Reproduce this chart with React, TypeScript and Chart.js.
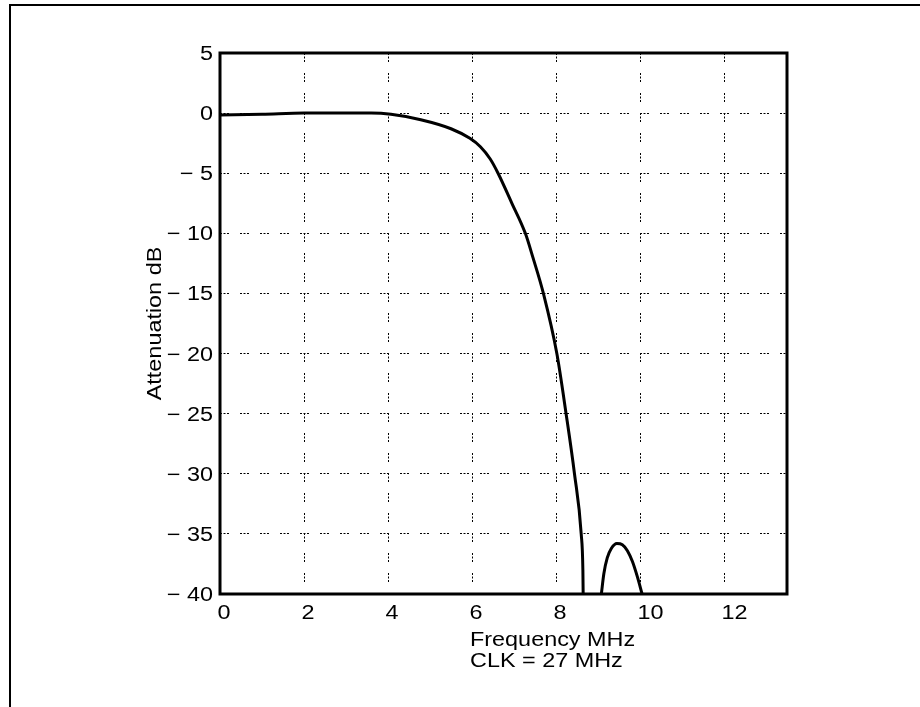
import React, { useEffect, useRef } from "react";
import { Chart, registerables } from "chart.js";

Chart.register(...registerables);

// ---- data ----
const xTickValues = [0, 2, 4, 6, 8, 10, 12];
const yTickValues = [5, 0, -5, -10, -15, -20, -25, -30, -35, -40];

const passbandFreq = [0, 1, 2, 3, 3.6, 4.07, 4.78, 5.5, 5.95, 6.2, 6.43, 6.62, 6.95, 7.27, 7.45, 7.7, 8.02, 8.24, 8.44, 8.6, 8.64, 8.65];
const passbandDb = [-0.15, -0.1, 0, 0, 0, -0.1, -0.55, -1.3, -2.1, -2.8, -3.8, -5, -7.5, -10, -12, -15, -20, -25, -30, -35, -38, -41];

const lobeFreq = [9.08, 9.14, 9.22, 9.32, 9.45, 9.58, 9.7, 9.82, 9.94, 10.05];
const lobeDb = [-40, -38.3, -37.0, -36.2, -35.8, -35.9, -36.4, -37.3, -38.6, -40];

const xTitleLines = ["Frequency MHz", "CLK = 27 MHz"];
const yTitle = "Attenuation dB";

const X_MIN = 0;
const X_MAX = 13.5;
const Y_MIN = -40;
const Y_MAX = 5;

const FONT = '20px "Liberation Sans", Arial, sans-serif';
const SX = 1.17;

function fmtY(v: number): string {
  return v < 0 ? "\u2212 " + Math.abs(v) : String(v);
}

const textAndFramePlugin = {
  id: "textAndFrame",
  afterDraw(chart: any) {
    const { ctx, chartArea: a, scales } = chart;
    const xs = scales.x;
    const ys = scales.y;
    ctx.save();
    ctx.strokeStyle = "#000";
    ctx.fillStyle = "#000";
    // page frame (top + left)
    ctx.lineWidth = 2;
    ctx.beginPath();
    ctx.moveTo(10, 707);
    ctx.lineTo(10, 5);
    ctx.lineTo(920, 5);
    ctx.stroke();
    // plot frame
    ctx.lineWidth = 3;
    ctx.strokeRect(a.left, a.top, a.right - a.left, a.bottom - a.top);

    ctx.font = FONT;
    ctx.textBaseline = "alphabetic";
    const put = (t: string, x: number, y: number, align: CanvasTextAlign) => {
      ctx.save();
      ctx.translate(x, y);
      ctx.scale(SX, 1);
      ctx.textAlign = align;
      ctx.fillText(t, 0, 0);
      ctx.restore();
    };
    xTickValues.forEach((v) => put(String(v), xs.getPixelForValue(v) - 2.5, a.bottom + 25, "left"));
    yTickValues.forEach((v) => put(fmtY(v), a.left - 7, ys.getPixelForValue(v) + 7, "right"));
    xTitleLines.forEach((t, i) => put(t, xs.getPixelForValue(6) - 2, a.bottom + 52 + i * 21, "left"));

    ctx.translate(a.left - 65, (a.top + a.bottom) / 2);
    ctx.rotate(-Math.PI / 2);
    ctx.scale(SX, 1);
    ctx.textAlign = "center";
    ctx.textBaseline = "middle";
    ctx.fillText(yTitle, 0, 0);
    ctx.restore();
  },
};

const gridDash = [2, 1.5, 2, 1.5, 2, 11];

export default function App() {
  const ref = useRef<HTMLCanvasElement | null>(null);
  useEffect(() => {
    if (!ref.current) return;
    const chart = new Chart(ref.current, {
      type: "line",
      data: {
        datasets: [
          {
            data: passbandFreq.map((f, i) => ({ x: f, y: passbandDb[i] })),
            borderColor: "#000",
            borderWidth: 3,
            pointRadius: 0,
            cubicInterpolationMode: "monotone",
            fill: false,
          },
          {
            data: lobeFreq.map((f, i) => ({ x: f, y: lobeDb[i] })),
            borderColor: "#000",
            borderWidth: 3,
            pointRadius: 0,
            cubicInterpolationMode: "monotone",
            fill: false,
          },
        ],
      },
      options: {
        animation: false,
        responsive: false,
        layout: { padding: { left: 220, top: 53, right: 133, bottom: 113 } },
        plugins: { legend: { display: false }, tooltip: { enabled: false }, title: { display: false } },
        scales: {
          x: {
            type: "linear",
            min: X_MIN,
            max: X_MAX,
            afterBuildTicks: (scale: any) => {
              scale.ticks = xTickValues.map((v) => ({ value: v }));
            },
            ticks: { display: false },
            grid: { color: "#000", lineWidth: 1, drawTicks: false },
            border: { display: false, dash: gridDash },
          },
          y: {
            type: "linear",
            min: Y_MIN,
            max: Y_MAX,
            afterBuildTicks: (scale: any) => {
              scale.ticks = yTickValues.map((v) => ({ value: v }));
            },
            ticks: { display: false },
            grid: { color: "#000", lineWidth: 1, drawTicks: false },
            border: { display: false, dash: gridDash },
          },
        },
      },
      plugins: [textAndFramePlugin],
    } as any);
    return () => chart.destroy();
  }, []);
  return (
    <div style={{ position: "absolute", left: 0, top: 0, width: 920, height: 707, background: "#fff" }}>
      <canvas ref={ref} width={920} height={707} style={{ display: "block" }} />
    </div>
  );
}
